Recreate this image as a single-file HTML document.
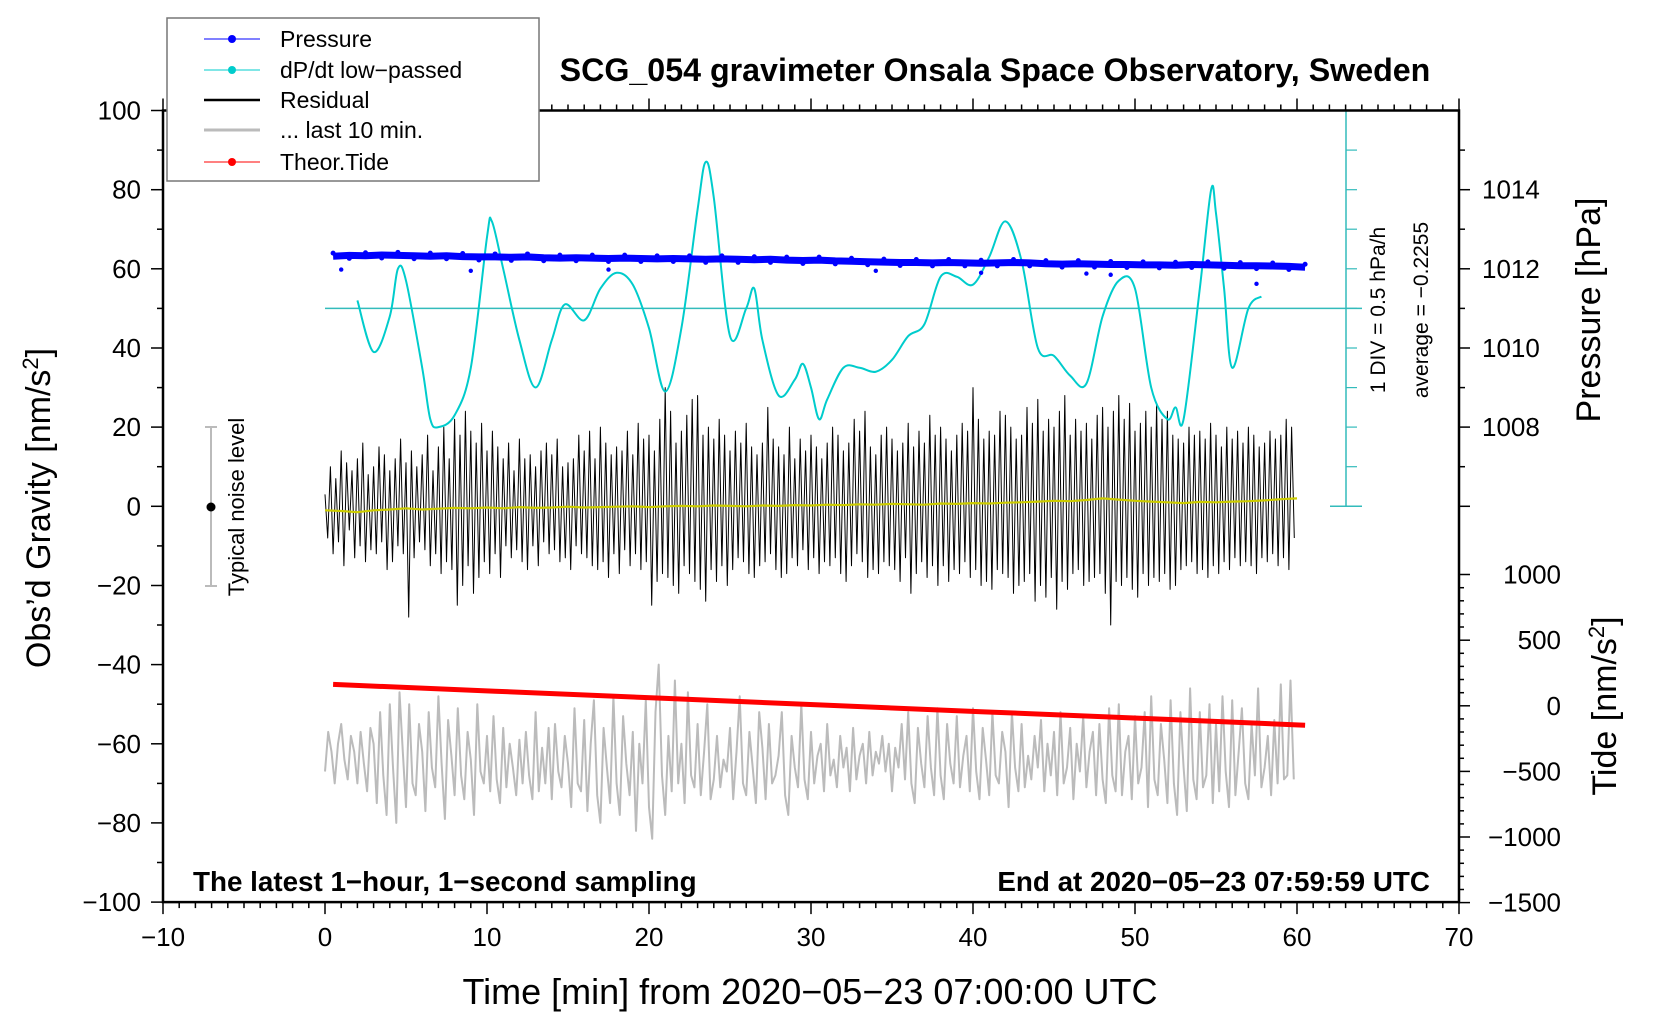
<!DOCTYPE html>
<html><head><meta charset="utf-8">
<style>
html,body{margin:0;padding:0;background:#fff;}
svg{display:block;font-family:"Liberation Sans",Arial,sans-serif;}
</style></head>
<body>
<svg id="chart" width="1660" height="1020" viewBox="0 0 1660 1020" xmlns="http://www.w3.org/2000/svg">
<rect x="0" y="0" width="1660" height="1020" fill="#fff"/>
<g id="datalayer"></g>
<g id="axislayer"></g>
<text x="995" y="81" text-anchor="middle" font-size="32.2" font-weight="bold">SCG_054 gravimeter Onsala Space Observatory, Sweden</text>
<text x="810" y="1004" text-anchor="middle" font-size="36">Time [min] from 2020−05−23 07:00:00 UTC</text>
<text transform="translate(50,508) rotate(-90)" text-anchor="middle" font-size="34">Obs’d Gravity [nm/s<tspan font-size="22" dy="-12">2</tspan><tspan dy="12">]</tspan></text>
<text transform="translate(1600,310) rotate(-90)" text-anchor="middle" font-size="34">Pressure [hPa]</text>
<text transform="translate(1616,706) rotate(-90)" text-anchor="middle" font-size="34">Tide [nm/s<tspan font-size="22" dy="-12">2</tspan><tspan dy="12">]</tspan></text>
<text x="193" y="891" font-size="27.8" font-weight="bold">The latest 1−hour, 1−second sampling</text>
<text x="1430" y="891" text-anchor="end" font-size="27.8" font-weight="bold">End at 2020−05−23 07:59:59 UTC</text>
<text transform="translate(1385,310) rotate(-90)" text-anchor="middle" font-size="21">1 DIV = 0.5 hPa/h</text>
<text transform="translate(1428,310) rotate(-90)" text-anchor="middle" font-size="21">average = −0.2255</text>
<g>
<line x1="211" y1="427" x2="211" y2="586" stroke="#bbb" stroke-width="2"/>
<line x1="205" y1="427" x2="217" y2="427" stroke="#bbb" stroke-width="2"/>
<line x1="205" y1="586" x2="217" y2="586" stroke="#bbb" stroke-width="2"/>
<circle cx="211" cy="507" r="4.5" fill="#000"/>
<text transform="translate(244,507) rotate(-90)" text-anchor="middle" font-size="22">Typical noise level</text>
</g>
<g>
<rect x="167" y="18" width="372" height="163" fill="#fff" stroke="#777" stroke-width="1.5"/>
<g><line x1="204" y1="39" x2="260" y2="39" stroke="#00f" stroke-width="1"/><circle cx="232" cy="39" r="4" fill="#00f"/><text x="280" y="47" font-size="23">Pressure</text></g>
<g><line x1="204" y1="70" x2="260" y2="70" stroke="#0cc" stroke-width="1"/><circle cx="232" cy="70" r="4" fill="#0cc"/><text x="280" y="78" font-size="23">dP/dt low−passed</text></g>
<g><line x1="204" y1="100" x2="260" y2="100" stroke="#000" stroke-width="2.5"/><text x="280" y="108" font-size="23">Residual</text></g>
<g><line x1="204" y1="130" x2="260" y2="130" stroke="#bbb" stroke-width="3"/><text x="280" y="138" font-size="23">... last 10 min.</text></g>
<g><line x1="204" y1="162" x2="260" y2="162" stroke="#f00" stroke-width="1"/><circle cx="232" cy="162" r="4" fill="#f00"/><text x="280" y="170" font-size="23">Theor.Tide</text></g>
</g>
</svg>
<script>
// ---- data ----
const xTickLabels = [-10,0,10,20,30,40,50,60,70];
const yTickLabels = [100,80,60,40,20,0,-20,-40,-60,-80,-100];
const pressureTickLabels = [1014,1012,1010,1008];
const tideTickLabels = [1000,500,0,-500,-1000,-1500];
const pressureHpa = [1012.32,1012.34,1012.33,1012.35,1012.34,1012.33,1012.32,1012.33,1012.31,1012.30,1012.30,1012.29,1012.30,1012.28,1012.27,1012.28,1012.27,1012.26,1012.27,1012.26,1012.25,1012.26,1012.25,1012.24,1012.25,1012.24,1012.23,1012.24,1012.22,1012.21,1012.22,1012.20,1012.19,1012.18,1012.17,1012.16,1012.16,1012.15,1012.16,1012.15,1012.14,1012.15,1012.16,1012.15,1012.13,1012.12,1012.13,1012.12,1012.11,1012.11,1012.10,1012.10,1012.09,1012.11,1012.10,1012.09,1012.08,1012.08,1012.07,1012.06,1012.04];
const pressureOutlierTime = [1,9,17.5,34,40.5,47,48.5,57.5];
const pressureOutlierHpa = [1011.98,1011.95,1011.98,1011.95,1011.90,1011.88,1011.85,1011.62];
const dpdtTime = [2,3,4,4.5,5,6,6.5,7,8,9,10,10.3,11,12,13,14,14.8,16,17,18,19,20,21,22,23,23.5,24,25,26,26.5,27,28,29,29.5,30,30.5,31,32,33,34,35,36,37,38,39,40,41,42,43,44,45,46,47,48,49,50,51,52,52.5,53,54,54.7,55,55.5,56,57,57.8];
const dpdtValue = [0.1,-0.55,-0.1,0.5,0.35,-0.75,-1.4,-1.5,-1.35,-0.75,0.9,1.1,0.5,-0.4,-1.0,-0.4,0.05,-0.15,0.25,0.45,0.3,-0.25,-1.05,-0.25,1.25,1.85,1.4,-0.35,0,0.25,-0.4,-1.1,-0.9,-0.7,-1.0,-1.4,-1.15,-0.75,-0.75,-0.8,-0.65,-0.35,-0.2,0.4,0.4,0.3,0.65,1.1,0.6,-0.5,-0.6,-0.85,-0.95,-0.1,0.35,0.25,-1.0,-1.4,-1.25,-1.4,0.25,1.5,1.2,0.25,-0.75,0,0.15];
const residual = [3,-8,10,-12,7,-9, 14,-15,11,-6,9,-13, 12,-10,16,-14,8,-11, 10,-12,15,-9,13,-16, 9,-14,12,-10,17,-12, 11,-28,14,-13,10,-9, 13,-11,18,-15,9,-12, 15,-17,20,-14,12,-16, 22,-25,18,-20,24,-15, 19,-22,16,-18,21,-14,
14,-17,19,-12,15,-18, 12,-10,16,-13,9,-11, 17,-14,12,-16,13,-10, 10,-15,14,-9,16,-12, 13,-11,17,-14,10,-13, 11,-16,12,-10,18,-12, 14,-13,19,-15,12,-16, 20,-14,16,-18,13,-12, 15,-17,14,-11,19,-15, 13,-12,21,-16,17,-14,
18,-25,14,-19,22,-17, 30,-18,24,-20,16,-22, 19,-15,23,-17,27,-19, 28,-21,18,-24,20,-16, 17,-19,22,-15,18,-20, 14,-16,19,-13,16,-14, 21,-17,15,-18,13,-15, 16,-14,25,-12,17,-16, 15,-18,13,-17,20,-13, 12,-15,17,-11,14,-16,
18,-13,15,-17,12,-14, 16,-15,20,-13,18,-17, 14,-19,16,-15,22,-12, 19,-14,24,-18,15,-16, 13,-17,18,-14,20,-15, 17,-16,14,-19,16,-13, 21,-22,15,-17,19,-14, 16,-18,23,-15,18,-20, 20,-15,17,-19,14,-16, 18,-17,21,-14,19,-18,
30,-16,22,-20,17,-19, 19,-21,18,-16,24,-17, 23,-18,20,-22,17,-20, 18,-19,25,-17,21,-24, 27,-20,19,-23,22,-18, 20,-26,24,-19,28,-21, 18,-17,22,-16,19,-20, 21,-19,17,-18,23,-17, 25,-22,20,-30,24,-19, 28,-20,22,-18,26,-21,
19,-23,21,-17,24,-20, 20,-18,26,-19,22,-17, 24,-21,18,-20,17,-16, 16,-15,20,-14,18,-17, 19,-16,17,-18,21,-15, 18,-17,15,-14,20,-16, 17,-13,19,-15,16,-14, 20,-15,18,-17,15,-13, 16,-14,19,-12,17,-15, 18,-13,22,-16,20,-8];
const smoothed = [-1,-1.2,-1.5,-1,-0.8,-0.5,-0.8,-0.6,-0.4,-0.5,-0.3,-0.5,-0.2,-0.4,-0.3,-0.1,-0.3,-0.2,-0.1,0,-0.2,0,0.1,0,0.2,0.1,0,0.2,0.1,0.3,0.2,0.4,0.3,0.5,0.4,0.6,0.5,0.4,0.7,0.6,0.8,0.7,0.9,1,1.2,1.4,1.3,1.6,2,1.7,1.4,1.2,1,0.8,1.1,1,1.2,1.3,1.5,1.8,2];
const last10 = [-67,-57,-62,-70,-60, -55,-64,-69,-58,-62, -70,-57,-65,-72,-56, -60,-75,-52,-68,-78, -50,-66,-80,-47,-62, -76,-50,-70,-73,-55, -62,-77,-52,-66,-71, -48,-65,-79,-54,-63, -73,-51,-68,-74,-57, -64,-78,-50,-67,-70,
-58,-72,-53,-69,-75, -56,-71,-60,-66,-73, -59,-70,-57,-68,-74, -52,-72,-61,-70,-56, -74,-55,-67,-71,-58, -65,-76,-51,-70,-72, -54,-77,-60,-49,-73, -80,-56,-66,-75,-48, -70,-78,-53,-65,-73, -57,-82,-60,-70,-49,
-76,-84,-52,-40,-68, -78,-58,-72,-44,-70, -60,-75,-47,-68,-71, -55,-73,-62,-50,-74, -69,-58,-71,-64,-67, -56,-74,-62,-48,-70, -73,-57,-66,-75,-52, -61,-74,-55,-70,-68, -63,-52,-73,-78,-58, -66,-71,-50,-69,-74,
-57,-70,-63,-60,-72, -55,-68,-64,-71,-58, -66,-61,-72,-56,-69, -63,-60,-70,-57,-68, -62,-65,-58,-67,-60, -72,-61,-66,-55,-69, -52,-70,-75,-56,-65, -71,-53,-66,-73,-51, -68,-74,-55,-65,-70, -53,-71,-63,-58,-72,
-51,-67,-74,-56,-64, -73,-52,-68,-70,-57, -62,-76,-52,-66,-72, -55,-71,-63,-69,-58, -66,-54,-72,-60,-68, -57,-73,-52,-70,-66, -56,-74,-60,-67,-53, -71,-62,-57,-73,-55, -69,-75,-51,-68,-72, -50,-73,-62,-58,-74,
-53,-70,-66,-52,-76, -48,-69,-73,-55,-64, -75,-49,-70,-78,-52, -66,-77,-46,-69,-74, -52,-71,-68,-50,-75, -55,-72,-48,-67,-76, -49,-73,-62,-51,-70, -74,-55,-68,-46,-71, -66,-58,-73,-54,-70, -45,-69,-68,-44,-69];
const tideTime = [0.5,10.5,20.5,30.5,40.5,50.5,60.5];
const tideValue = [163,111,59,7,-45,-96,-148];

// ---- scales ----
const X = t => 325 + t*16.2;
const Y = g => 110.5 + (100-g)*3.958;
const PY = p => Y((p-1006)*10);
const TY = v => Y(v/30.16 - 50.4);
const DY = d => Y(50 + d*20);
const NS = "http://www.w3.org/2000/svg";
function mk(tag, parent){ const e=document.createElementNS(NS,tag); parent.appendChild(e); return e; }
const dataLayer = document.getElementById('datalayer');
const axes = document.getElementById('axislayer');
function polyline(parent, pts, color, w){
  const p = mk('polyline', parent);
  p.setAttribute('points', pts.map(q=>q[0].toFixed(1)+','+q[1].toFixed(1)).join(' '));
  p.setAttribute('fill','none'); p.setAttribute('stroke',color); p.setAttribute('stroke-width',w);
  p.setAttribute('stroke-linejoin','round');
  return p;
}

const bar = mk('g', dataLayer);


polyline(bar, [[X(0),DY(0)],[1362,DY(0)]], '#3bb', 1.5);
polyline(bar, [[1346,DY(2.5)],[1346,DY(-2.5)]], '#3bb', 1.5);
polyline(bar, [[1330,DY(2.5)],[1362,DY(2.5)]], '#3bb', 1.5);
polyline(bar, [[1330,DY(-2.5)],[1362,DY(-2.5)]], '#3bb', 1.5);
for(let k=-5;k<=5;k++){ polyline(bar, [[1346,DY(k*0.5)],[1357,DY(k*0.5)]], '#3bb', 1.2); }

const res = polyline(dataLayer, residual.map((v,i)=>[X(i/6), Y(v)]), '#000', 1);


const sm = polyline(dataLayer, smoothed.map((v,i)=>[X(i), Y(v)]), '#cc0', 2.2);


const l10 = polyline(dataLayer, last10.map((v,i)=>[X(i*0.2), Y(v)]), '#bbb', 2);


const td = polyline(dataLayer, tideTime.map((t,i)=>[X(t), TY(tideValue[i])]), '#f00', 5);


(function(){
  const pts = dpdtTime.map((t,i)=>[X(t), DY(dpdtValue[i])]);
  let d = 'M'+pts[0][0]+','+pts[0][1];
  for(let i=0;i<pts.length-1;i++){
    const p0=pts[Math.max(0,i-1)], p1=pts[i], p2=pts[i+1], p3=pts[Math.min(pts.length-1,i+2)];
    const c1=[p1[0]+(p2[0]-p0[0])/6, p1[1]+(p2[1]-p0[1])/6];
    const c2=[p2[0]-(p3[0]-p1[0])/6, p2[1]-(p3[1]-p1[1])/6];
    d += ' C'+c1.join(',')+' '+c2.join(',')+' '+p2.join(',');
  }
  const path = mk('path', dataLayer);
  path.setAttribute('d', d); path.setAttribute('fill','none'); path.setAttribute('stroke','#0cc'); path.setAttribute('stroke-width','2');
  
  
})();
const pr = polyline(dataLayer, pressureHpa.map((p,i)=>[X(0.5+i), PY(p)]), '#00f', 7);


pressureHpa.forEach((p,i)=>{
  const c = mk('circle', dataLayer);
  c.setAttribute('cx', X(0.5+i)); c.setAttribute('cy', PY(p)+ (i%2?3:-3)); c.setAttribute('r', 2.5); c.setAttribute('fill','#00f');
  
  
});
pressureOutlierTime.forEach((t,i)=>{
  const c = mk('circle', dataLayer);
  c.setAttribute('cx', X(t)); c.setAttribute('cy', PY(pressureOutlierHpa[i])); c.setAttribute('r', 2.2); c.setAttribute('fill','#00f');
  
  
});

const L=X(-10), R=X(70), T=Y(100), B=Y(-100);
const frame = mk('rect', axes);
frame.setAttribute('x',L); frame.setAttribute('y',T); frame.setAttribute('width',R-L); frame.setAttribute('height',B-T);
frame.setAttribute('fill','none'); frame.setAttribute('stroke','#000'); frame.setAttribute('stroke-width','2.5');


function tick(x1,y1,x2,y2,w){ polyline(axes, [[x1,y1],[x2,y2]], '#000', w||1.5); }
function label(x,y,txt,anchor,name){
  const t = mk('text', axes);
  t.setAttribute('x',x); t.setAttribute('y',y); t.setAttribute('text-anchor',anchor); t.setAttribute('font-size','26');
  t.textContent = txt;
  
  
}
const fmt = v => (v<0?'−':'')+Math.abs(v);
for(let m=-10;m<=70;m++){
  const major = m%10===0;
  tick(X(m),B,X(m),B+(major?12:6)); tick(X(m),T,X(m),T-(major?12:6));
}
xTickLabels.forEach(v=>label(X(v), B+44, fmt(v), 'middle', 'x-tick-label'));
for(let g=-100;g<=100;g+=10){ tick(L,Y(g),L-(g%20===0?12:6),Y(g)); }
yTickLabels.forEach(v=>label(L-22, Y(v)+9, fmt(v), 'end', 'y-tick-label'));
for(let p=1006;p<=1015;p++){ tick(R,PY(p),R+(p%2===0?11:6),PY(p)); }
pressureTickLabels.forEach(v=>label(R+23, PY(v)+9, String(v), 'start', 'pressure-tick-label'));
for(let v=-1500;v<=1000;v+=100){ tick(R,TY(v),R+(v%500===0?11:5),TY(v)); }
tideTickLabels.forEach(v=>label(R+102, TY(v)+9, fmt(v), 'end', 'tide-tick-label'));
</script>
</body></html>
